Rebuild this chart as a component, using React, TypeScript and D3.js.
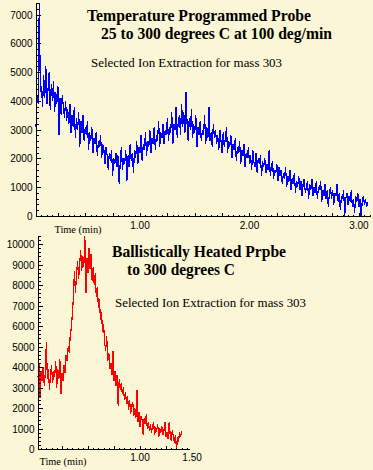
import React from 'react';
import * as d3 from 'd3';

// --- data ---
const topTimeStart = 0.05;
const topTimeStep = 0.01;
const topCounts = [
  3100, 4200, 3900, 7400, 4300,
  4500, 3800, 4900, 4100, 5200, 3900, 4400, 5000, 3700, 4600,
  4000, 4700, 3600, 4300, 3900, 4500, 2800, 4100, 3500, 4200, 3800, 3400, 4000, 3300, 3700,
  3200, 3900, 2900, 3500, 3100, 3800, 2700, 3400, 3000, 3600, 2400, 3300, 2900, 3500, 2600,
  3100, 2800, 3300, 2300, 2900, 2600, 3100, 2200, 2700, 2500, 2900, 2100, 2600, 2400, 2800,
  2000, 2500, 2300, 1800, 2400, 2100, 1600, 2200, 1900, 2300, 1400, 2000, 1800, 2200, 1700,
  2100, 1100, 1900, 2400, 1600, 2000, 1800, 2300, 1200, 2100, 1700, 2500, 1900, 2200, 1500,
  2300, 2000, 2600, 1800, 2400, 2200, 2800, 1900, 2500, 2300, 2900, 2100, 2600, 2400, 3000,
  2200, 2700, 2500, 3100, 2300, 2800, 2600, 3300, 2400, 2900, 2700, 3200, 2500, 3000, 2800,
  3400, 2600, 3100, 2900, 3600, 2500, 3200, 3000, 3800, 2700, 3300, 3500, 2800, 3900, 3100,
  3600, 2900, 4300, 3200, 2600, 3400, 3000, 3700, 2700, 3200, 2900, 3500, 2400, 3100, 2800,
  3300, 2600, 3000, 2800, 3500, 2500, 3100, 2700, 3800, 2600, 2900, 2400, 3200, 2700, 3000,
  2500, 2800, 2300, 3000, 2600, 2200, 2900, 2400, 2700, 3100, 2200, 2600, 2400, 2800, 2000,
  2500, 2300, 2700, 1900, 2400, 2200, 2600, 1800, 2300, 2100, 2500, 1700, 2200, 2000, 2400,
  1800, 2100, 1600, 2300, 1900, 1700, 2200, 1500, 2000, 1800, 2100, 1400, 1900, 1700, 2000,
  1500, 1800, 1600, 2300, 1400, 1700, 1900, 1300, 1600, 1500, 1800, 1200, 1700, 1400, 1600,
  1100, 1500, 1300, 1700, 1000, 1400, 1200, 1600, 900, 1300, 1100, 1500, 800, 1200, 1000,
  1400, 900, 1200, 700, 1100, 1300, 800, 1000, 1200, 600, 1100, 900, 1300, 700, 1000,
  800, 1200, 600, 1000, 900, 1200, 500, 900, 700, 1100, 600, 900, 300, 800, 1000,
  600, 900, 400, 800, 700, 1100, 500, 800, 200, 700, 600, 900, 0, 600, 800,
  400, 700, 500, 900, 300, 600, 100, 700, 500, 800, 300, 600, 0, 500, 700, 400, 600, 300, 500,
];

const bottomTimeStart = 0.02;
const bottomTimeStep = 0.01;
const bottomCounts = [
  3500, 4200, 2500, 3800, 3300, 4000, 3100, 3700, 5200, 3400, 3900, 2900, 3600, 4100, 3200, 3800, 3500, 4300, 3000, 3900, 3400, 4400, 2700, 3700, 3300,
  4100, 3700, 4600, 4300, 5000, 4700, 5600,
  5900, 6600, 7400, 8700, 7600, 8500,
  9200, 8300, 9000, 9700, 8700, 9400, 8900, 10400, 7600, 9300, 8600, 9800, 8800, 9500, 8200, 8900,
  8000, 8600, 7400, 7900, 6900, 7300, 6300, 6700,
  5700, 6100, 5200, 4800, 5500, 4300, 4700, 3900, 4200,
  3600, 4800, 3300, 3800, 3100, 3600, 2100, 3400, 2900, 3200,
  2700, 3000, 2400, 2800, 2200, 2600, 1900, 2400, 1700, 2100, 2300, 1600, 2000,
  1500, 2900, 1300, 1800, 1100, 1600, 1400, 700, 1500, 1200, 1700, 1000, 1300,
  900, 1200, 800, 1100, 1300, 700, 1000, 900, 1200, 600, 1000, 800, 1100, 700, 900, 1300, 600, 800,
  500, 1300, 700, 400, 900, 600, 300, 700, 0, 500, 400, 800, 600, 900,
];

const topYTicks = [0, 1000, 2000, 3000, 4000, 5000, 6000, 7000];
const topXTicks = [1, 2, 3];
const bottomYTicks = [0, 1000, 2000, 3000, 4000, 5000, 6000, 7000, 8000, 9000, 10000];
const bottomXTicks = [1, 1.5];

const topTitle = ['Temperature Programmed Probe', '25 to 300 degrees C at 100 deg/min'];
const bottomTitle = ['Ballistically Heated Prpbe', 'to 300 degrees C'];
const subtitle = 'Selected Ion Extraction for mass 303';
const xAxisLabel = 'Time (min)';

const W = 373;
const H = 470;
const BG = '#faf6d6';
const SERIF = '"Liberation Serif", "Times New Roman", serif';
const SANS = '"Liberation Sans", Arial, sans-serif';

interface TitleLine { text: string; x: number; y: number; w: number; size: number; bold: boolean; }

interface PanelProps {
  counts: number[];
  t0: number;
  dt: number;
  color: string;
  xDomain: [number, number];
  xRange: [number, number];
  yDomain: [number, number];
  yRange: [number, number];
  yTicks: number[];
  xTicks: number[];
  tickLabelY: number;
  axisLabelPos: [number, number];
  titles: TitleLine[];
}

const Panel: React.FC<PanelProps> = (p) => {
  const x = d3.scaleLinear().domain(p.xDomain).range(p.xRange);
  const y = d3.scaleLinear().domain(p.yDomain).range(p.yRange);
  const fmt = d3.format('.2f');

  const line = d3.line<number>()
    .x((_, i) => x(p.t0 + i * p.dt))
    .y(d => y(d));

  const x0 = Math.round(x(p.xDomain[0])) + 0.5;
  const y0 = Math.round(y(0)) + 0.5;

  // minor ticks every 200 counts on y, every 0.05 min on x
  const yMinor = d3.range(0, p.yDomain[1] + 1, 200);
  const xMinor = d3.range(Math.ceil(p.xDomain[0] / 0.05) * 0.05, p.xDomain[1] + 0.001, 0.05);

  return (
    <g>
      {p.titles.map((t, i) => (
        <text key={i} x={t.x} y={t.y} textLength={t.w} lengthAdjust="spacingAndGlyphs"
          fontFamily={SERIF} fontSize={t.size} fontWeight={t.bold ? 'bold' : 'normal'} fill="#000">
          {t.text}
        </text>
      ))}

      <path d={line(p.counts) ?? ''} fill="none" stroke={p.color} strokeWidth={1.2}
        shapeRendering="crispEdges" />

      <g stroke="#000" strokeWidth={1} shapeRendering="crispEdges">
        <line x1={x0} x2={x0} y1={y(p.yDomain[1])} y2={y0} />
        <line x1={x0} x2={p.xRange[1]} y1={y0} y2={y0} />
        {yMinor.map(v => (
          <line key={'ym' + v} x1={x0} x2={x0 + (v % 1000 === 0 ? 4 : 2)}
            y1={Math.round(y(v)) + 0.5} y2={Math.round(y(v)) + 0.5} />
        ))}
        {xMinor.map((v, i) => {
          const major = Math.abs(v * 4 - Math.round(v * 4)) < 1e-6;
          return (
            <line key={'xm' + i} x1={Math.round(x(v)) + 0.5} x2={Math.round(x(v)) + 0.5}
              y1={y0} y2={y0 - (major ? 4 : 2)} />
          );
        })}
      </g>

      {p.yTicks.map(v => (
        <text key={'yl' + v} x={x0 - 4} y={y(v) + 4} textAnchor="end"
          fontFamily={SANS} fontSize={10} fill="#000">{v}</text>
      ))}
      {p.xTicks.map(v => (
        <text key={'xl' + v} x={x(v)} y={p.tickLabelY} textAnchor="middle"
          fontFamily={SANS} fontSize={10} fill="#000">{fmt(v)}</text>
      ))}
      <text x={p.axisLabelPos[0]} y={p.axisLabelPos[1]} textAnchor="middle" textLength={47}
        lengthAdjust="spacingAndGlyphs" fontFamily={SERIF} fontSize={10.5} fill="#000">{xAxisLabel}</text>
    </g>
  );
};

export default function App() {
  return (
    <div style={{ position: 'absolute', left: 0, top: 0, width: W, height: H }}>
      <svg width={W} height={H} style={{ display: 'block' }}>
        <rect x={0} y={0} width={W} height={H} fill={BG} />
        <Panel
          counts={topCounts} t0={topTimeStart} dt={topTimeStep} color="#0000ff"
          xDomain={[0.05, 3.11]} xRange={[36, 371]}
          yDomain={[0, 7400]} yRange={[216, 3]}
          yTicks={topYTicks} xTicks={topXTicks}
          tickLabelY={229} axisLabelPos={[78, 233]}
          titles={[
            { text: topTitle[0], x: 87, y: 21, w: 224, size: 16, bold: true },
            { text: topTitle[1], x: 101, y: 39, w: 231, size: 16, bold: true },
            { text: subtitle, x: 91, y: 66.5, w: 191, size: 12.5, bold: false },
          ]}
        />
        <Panel
          counts={bottomCounts} t0={bottomTimeStart} dt={bottomTimeStep} color="#ff0000"
          xDomain={[0.02, 1.48]} xRange={[38, 190]}
          yDomain={[0, 10400]} yRange={[449, 236]}
          yTicks={bottomYTicks} xTicks={bottomXTicks}
          tickLabelY={461} axisLabelPos={[63, 465]}
          titles={[
            { text: bottomTitle[0], x: 112, y: 257, w: 174, size: 16, bold: true },
            { text: bottomTitle[1], x: 127, y: 275, w: 108, size: 16, bold: true },
            { text: subtitle, x: 115, y: 306.5, w: 191, size: 12.5, bold: false },
          ]}
        />
      </svg>
    </div>
  );
}
